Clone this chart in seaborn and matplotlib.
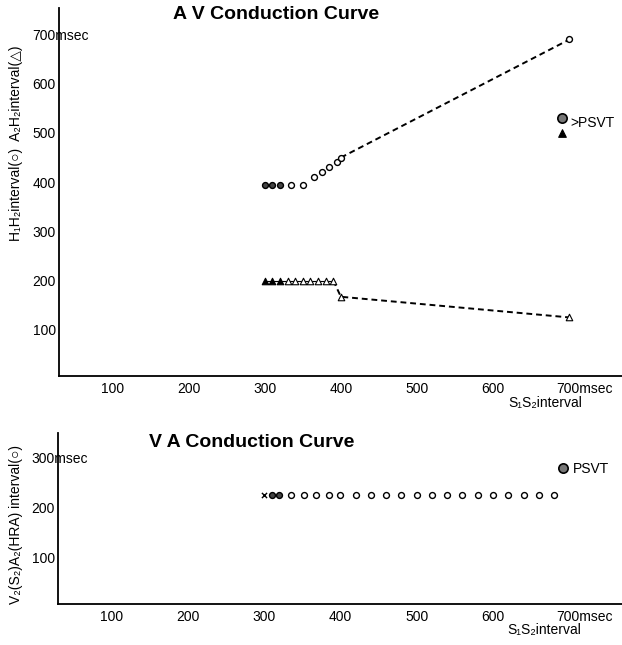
import matplotlib
matplotlib.use("Agg")
import matplotlib.pyplot as plt
import matplotlib.transforms as mtransforms
import seaborn as sns

# --- A V conduction curve data (msec) ---
h_x_filled = [300, 310, 320]
h_y_filled = [395, 395, 395]
h_x_open = [335, 350, 365, 375, 385, 395, 400, 700]
h_y_open = [395, 395, 410, 420, 430, 440, 450, 690]

a_x_filled = [300, 310, 320]
a_y_filled = [200, 200, 200]
a_x_open = [330, 340, 350, 360, 370, 380, 390, 400, 700]
a_y_open = [200, 200, 200, 200, 200, 200, 200, 167, 125]

psvt_av_x = [690, 690]
psvt_av_y = [530, 500]

# --- V A conduction curve data (msec) ---
va_x_cross = [300]
va_y_cross = [225]
va_x_filled = [310, 320]
va_y_filled = [225, 225]
va_x_open = [335, 352, 368, 385, 400, 420, 440, 460, 480, 500, 520, 540,
             560, 580, 600, 620, 640, 660, 680]
va_y_open = [225] * len(va_x_open)
psvt_va_x = [692]
psvt_va_y = [280]

av_yticks = [100, 200, 300, 400, 500, 600, 700]
av_ylabels = ["100", "200", "300", "400", "500", "600", "700msec"]
va_yticks = [100, 200, 300]
va_ylabels = ["100", "200", "300msec"]
xticks = [100, 200, 300, 400, 500, 600, 700]
xlabels = ["100", "200", "300", "400", "500", "600", "700msec"]

sns.set_theme(style="white")
plt.rcParams["font.family"] = ["Liberation Sans", "DejaVu Sans"]
plt.rcParams["text.color"] = "black"
plt.rcParams["axes.labelcolor"] = "black"

fig = plt.figure(figsize=(6.22, 6.45), dpi=100)
ax1 = fig.add_axes([0.0949, 0.4171, 0.9051, 0.5705])
ax2 = fig.add_axes([0.0932, 0.0636, 0.9068, 0.2651])


def style_axes(ax, yticks, ylabels, ylim):
    ax.set_xlim(30, 769)
    ax.set_ylim(*ylim)
    for s in ["top", "right"]:
        ax.spines[s].set_visible(False)
    for s in ["left", "bottom"]:
        ax.spines[s].set_color("black")
        ax.spines[s].set_linewidth(1.3)
    ax.set_xticks(xticks, xlabels)
    ax.set_yticks(yticks, ylabels)
    ax.tick_params(axis="y", length=0, pad=19, labelsize=10, colors="black")
    ax.tick_params(axis="x", length=0, pad=4, labelsize=10, colors="black")
    for lab in ax.get_yticklabels():
        lab.set_ha("left")
    last = ax.get_xticklabels()[-1]
    last.set_ha("left")
    last.set_transform(last.get_transform() +
                       mtransforms.ScaledTranslation(-0.13, 0, fig.dpi_scale_trans))


style_axes(ax1, av_yticks, av_ylabels, (6, 754))
style_axes(ax2, va_yticks, va_ylabels, (8, 350))

# top chart lines
sns.lineplot(x=a_x_filled + a_x_open[:7], y=a_y_filled + a_y_open[:7], ax=ax1,
             color="black", linewidth=0.8, sort=False, estimator=None)
sns.lineplot(x=a_x_open[6:], y=a_y_open[6:], ax=ax1, color="black",
             linewidth=1.4, linestyle=(0, (3, 2)), sort=False, estimator=None)
sns.lineplot(x=h_x_open[-2:], y=h_y_open[-2:], ax=ax1, color="black",
             linewidth=1.4, linestyle=(0, (3, 2)), sort=False, estimator=None)

# top chart markers
sns.scatterplot(x=h_x_filled, y=h_y_filled, ax=ax1, marker="o", s=18,
                fc="#444444", ec="black", linewidth=1, zorder=3)
sns.scatterplot(x=h_x_open, y=h_y_open, ax=ax1, marker="o", s=18,
                fc="white", ec="black", linewidth=1, zorder=3)
sns.scatterplot(x=a_x_filled, y=a_y_filled, ax=ax1, marker="^", s=22,
                fc="black", ec="black", linewidth=0.8, zorder=3)
sns.scatterplot(x=a_x_open, y=a_y_open, ax=ax1, marker="^", s=22,
                fc="white", ec="black", linewidth=0.8, zorder=3)
sns.scatterplot(x=psvt_av_x[:1], y=psvt_av_y[:1], ax=ax1, marker="o", s=45,
                fc="#777777", ec="black", linewidth=1.2, zorder=3)
sns.scatterplot(x=psvt_av_x[1:], y=psvt_av_y[1:], ax=ax1, marker="^", s=30,
                fc="black", ec="black", linewidth=0.8, zorder=3)
ax1.text(701, 521, ">PSVT", fontsize=10, ha="left", va="center")

# bottom chart markers
sns.scatterplot(x=va_x_cross, y=va_y_cross, ax=ax2, marker="x", s=14,
                color="black", linewidth=1, zorder=3)
sns.scatterplot(x=va_x_filled, y=va_y_filled, ax=ax2, marker="o", s=18,
                fc="#444444", ec="black", linewidth=1, zorder=3)
sns.scatterplot(x=va_x_open, y=va_y_open, ax=ax2, marker="o", s=18,
                fc="white", ec="black", linewidth=1, zorder=3)
sns.scatterplot(x=psvt_va_x, y=psvt_va_y, ax=ax2, marker="o", s=45,
                fc="#777777", ec="black", linewidth=1.2, zorder=3)
ax2.text(704, 278, "PSVT", fontsize=10, ha="left", va="center")

# titles
ax1.text(0.385, 0.981, "A V Conduction Curve", transform=ax1.transAxes,
         fontsize=14, fontweight="bold", ha="center", va="center", color="black")
ax2.text(0.344, 0.947, "V A Conduction Curve", transform=ax2.transAxes,
         fontsize=14, fontweight="bold", ha="center", va="center", color="black")

# axis labels
ax1.set_xlabel("S₁S₂interval", fontsize=10)
ax1.xaxis.set_label_coords(0.863, -0.073)
ax1.xaxis.label.set_va("center")
ax2.set_xlabel("S₁S₂interval", fontsize=10)
ax2.xaxis.set_label_coords(0.863, -0.152)
ax2.xaxis.label.set_va("center")

ax1.set_ylabel("H₁H₂interval(○)  A₂H₂interval(△)", fontsize=10)
ax1.yaxis.set_label_coords(-0.076, 0.633)
ax1.yaxis.label.set_va("center")
ax2.set_ylabel("V₂(S₂)A₂(HRA) interval(○)", fontsize=10)
ax2.yaxis.set_label_coords(-0.074, 0.462)
ax2.yaxis.label.set_va("center")

fig.savefig("out.png", dpi=100)
